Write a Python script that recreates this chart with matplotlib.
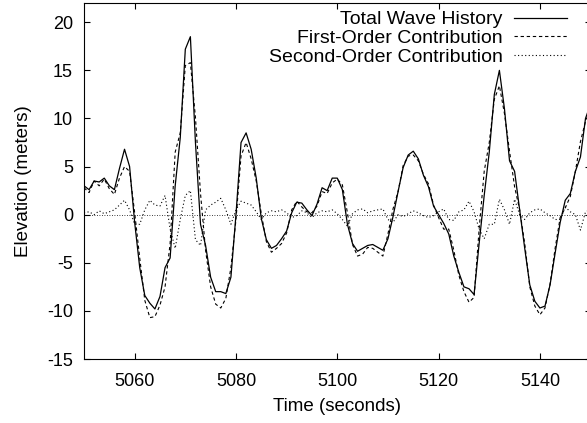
import numpy as np
import matplotlib
matplotlib.use("Agg")
import matplotlib.pyplot as plt

plt.rcParams["font.family"] = ["Liberation Sans", "DejaVu Sans"]
plt.rcParams["axes.unicode_minus"] = False

# time samples (seconds), one per second
time_s = np.arange(5050, 5151, 1.0)

total = [
    3.0, 2.6, 3.5, 3.4, 3.8, 3.0, 2.6, 4.8, 6.8, 5.0,
    -0.8, -5.5, -8.4, -9.2, -9.8, -8.5, -5.5, -4.5, 3.0, 8.0,
    17.2, 18.5, 7.5, -1.0, -3.2, -6.5, -8.0, -8.0, -8.2, -6.5,
    0.0, 7.5, 8.5, 6.8, 3.8, -0.4, -2.6, -3.5, -3.2, -2.5,
    -1.7, 0.2, 1.3, 1.2, 0.5, -0.1, 1.1, 2.8, 2.5, 3.8,
    3.8, 2.6, -1.0, -3.0, -3.8, -3.5, -3.2, -3.1, -3.4, -3.7,
    -2.5, -0.2, 2.4, 4.9, 6.2, 6.6, 5.8, 4.1, 2.9, 0.9,
    0.0, -0.9, -2.0, -4.3, -6.0, -7.5, -7.7, -8.3, -3.0, 2.0,
    6.5, 12.5, 15.0, 11.0, 5.6, 4.5, 0.5, -3.5, -7.3, -9.0,
    -9.7, -9.5, -7.3, -4.0, -0.8, 1.5, 2.2, 4.5, 6.0, 10.0,
    11.5,
]

first_order = [
    2.8, 2.3, 3.5, 3.0, 3.7, 2.7, 2.1, 3.8, 5.0, 4.5,
    0.2, -4.5, -8.9, -10.7, -10.6, -9.4, -7.5, -3.0, 6.5, 8.5,
    15.5, 15.8, 10.1, 2.2, -3.7, -7.5, -9.3, -9.7, -8.7, -5.5,
    -0.5, 6.1, 7.5, 5.8, 3.5, 0.1, -2.8, -3.9, -3.5, -3.0,
    -1.9, 0.5, 1.4, 0.8, 0.3, 0.2, 0.9, 2.4, 2.2, 3.3,
    3.7, 3.1, 0.2, -3.1, -4.3, -4.1, -3.4, -3.5, -3.9, -4.3,
    -2.0, 0.6, 2.4, 5.1, 6.1, 6.2, 5.6, 4.2, 3.2, 1.0,
    -0.3, -1.5, -1.5, -3.7, -6.3, -8.0, -9.1, -8.6, -1.5, 4.5,
    7.5, 12.0, 13.4, 10.5, 6.6, 2.9, 0.5, -3.0, -7.5, -9.5,
    -10.4, -9.7, -7.2, -3.5, -0.3, 0.7, 1.9, 4.5, 7.6, 9.7,
    11.0,
]

second_order = [
    0.2, 0.3, 0.0, 0.4, 0.1, 0.3, 0.5, 1.0, 1.5, 0.5,
    -1.0, -1.0, 0.5, 1.5, 1.0, 0.9, 2.0, -1.5, -3.5, -0.5,
    2.0, 2.5, -2.6, -3.2, 0.5, 1.0, 1.3, 1.7, 0.5, -1.0,
    0.5, 1.4, 1.2, 1.0, 0.3, -0.5, 0.2, 0.4, 0.3, 0.5,
    0.2, -0.3, -0.1, 0.4, 0.2, -0.3, 0.2, 0.4, 0.3, 0.5,
    0.1, -0.5, -1.2, 0.1, 0.5, 0.6, 0.2, 0.4, 0.5, 0.6,
    -0.5, -0.8, 0.0, -0.2, 0.1, 0.4, 0.2, -0.1, -0.3, -0.1,
    0.3, 0.6, -0.5, -0.6, 0.3, 0.5, 1.4, 0.3, -1.5, -2.5,
    -1.0, -1.0, 1.6, 0.5, -1.0, 1.6, 0.0, -0.5, 0.2, 0.5,
    0.6, 0.2, -0.1, -0.5, -0.5, 0.8, 0.3, 0.0, -1.6, 0.3,
    0.5,
]

x_ticks = [5060, 5080, 5100, 5120, 5140]
y_ticks = [-15, -10, -5, 0, 5, 10, 15, 20]

fig = plt.figure(figsize=(5.87, 4.23), dpi=100)
# right edge sits just past the image, as in the original crop
ax = fig.add_axes([0.1431, 0.1513, 0.863, 0.8416])

ax.axhline(0, color="black", lw=0.6, ls=(0, (1, 2)), zorder=1)
ax.plot(time_s, total, color="black", lw=0.9, label="Total Wave History")
ax.plot(time_s, first_order, color="black", lw=0.8, ls=(0, (3, 2.5)),
        label="First-Order Contribution")
ax.plot(time_s, second_order, color="black", lw=0.8, ls=(0, (1, 2.2)),
        label="Second-Order Contribution")

ax.set_xlim(5050, 5150)
ax.set_ylim(-15, 22)
ax.set_xticks(x_ticks)
ax.set_yticks(y_ticks)
ax.tick_params(direction="in", length=4.3, width=0.8, top=True, right=True,
               labelsize=13)
ax.tick_params(axis="x", pad=10)
ax.tick_params(axis="y", pad=8)
for sp in ax.spines.values():
    sp.set_linewidth(0.8)

ax.set_xlabel("Time (seconds)", fontsize=13.5, labelpad=6)
ax.set_ylabel("Elevation (meters)", fontsize=13.5, labelpad=11)

ax.legend(loc="upper right", bbox_to_anchor=(0.953, 0.978), frameon=False,
          markerfirst=False, fontsize=14, handlelength=2.7, handletextpad=0.6,
          labelspacing=0.05, borderpad=0, borderaxespad=0)

fig.savefig("out.png", dpi=100)
